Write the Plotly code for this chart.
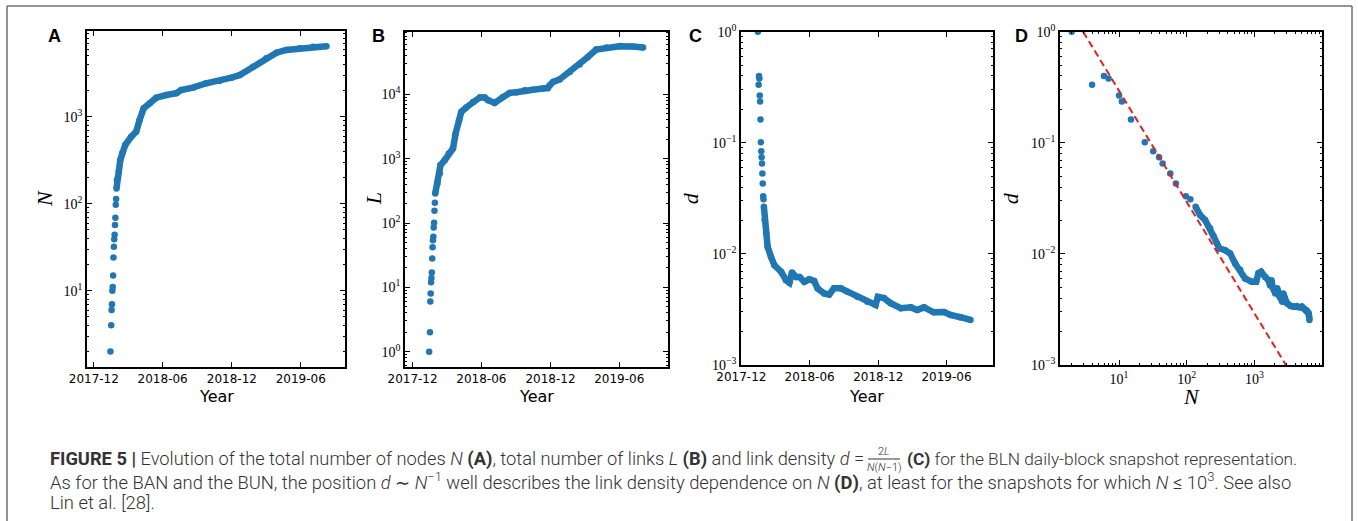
import plotly.graph_objects as go

# ---------------- data ----------------
early_dates = ["2018-01-14", "2018-01-16", "2018-01-17", "2018-01-18", "2018-01-19",
               "2018-01-20", "2018-01-21", "2018-01-22", "2018-01-23", "2018-01-24",
               "2018-01-25", "2018-01-26", "2018-01-27", "2018-01-28", "2018-01-29"]
nodes_early = [2, 4, 6, 7, 10, 11, 15, 24, 32, 39, 44, 57, 69, 97, 113]
links_early = [1, 2, 6, 8, 12, 14, 17, 28, 42, 54, 61, 85, 101, 155, 206]
density_early = [1.0, 0.333, 0.40, 0.38, 0.267, 0.236, 0.162, 0.101, 0.084, 0.074,
                 0.065, 0.053, 0.043, 0.033, 0.031]

dates_a = ["2018-01-30", "2018-01-31", "2018-02-05", "2018-02-09", "2018-02-14", "2018-02-22",
           "2018-03-10", "2018-03-23", "2018-04-01", "2018-04-12", "2018-04-28", "2018-05-15",
           "2018-06-11", "2018-07-07", "2018-07-20", "2018-08-20", "2018-09-24", "2018-10-29",
           "2018-11-30", "2018-12-22", "2019-01-26", "2019-03-02", "2019-03-29", "2019-04-24",
           "2019-05-30", "2019-07-04", "2019-08-08"]
nodes_a = [150, 187, 233, 318, 379, 473, 589, 673, 916, 1250, 1427, 1652, 1775, 1858, 2027,
           2155, 2421, 2570, 2806, 3013, 3758, 4690, 5440, 5850, 6110, 6380, 6450]

dates_b = ["2018-01-30", "2018-02-05", "2018-02-11", "2018-02-13", "2018-02-24", "2018-03-07",
           "2018-03-18", "2018-03-25", "2018-04-03", "2018-04-09", "2018-04-22", "2018-05-10",
           "2018-05-28", "2018-06-10", "2018-06-19", "2018-07-06", "2018-07-28", "2018-08-15",
           "2018-09-02", "2018-09-24", "2018-10-16", "2018-11-11", "2018-11-24", "2018-11-29",
           "2018-12-08", "2018-12-25", "2019-01-21", "2019-02-16", "2019-03-10", "2019-04-01",
           "2019-04-28", "2019-06-02", "2019-07-07", "2019-08-03"]
links_b = [288, 412, 589, 794, 948, 1202, 1439, 2460, 3960, 5330, 6240, 7620, 8920, 8920,
           8090, 7350, 9120, 10520, 10800, 11600, 11800, 12300, 12500, 13840, 15600, 17000,
           22300, 29000, 38000, 49500, 53300, 55800, 55500, 53300]

dates_c = ["2018-01-30", "2018-02-01", "2018-02-05", "2018-02-09", "2018-02-18", "2018-02-27",
           "2018-03-17", "2018-03-30", "2018-04-08", "2018-04-15", "2018-04-26", "2018-05-05",
           "2018-05-18", "2018-05-31", "2018-06-13", "2018-06-22", "2018-07-10", "2018-07-23",
           "2018-08-05", "2018-08-23", "2018-09-10", "2018-10-07", "2018-11-02", "2018-11-24",
           "2018-11-30", "2018-12-16", "2019-01-03", "2019-01-30", "2019-02-26", "2019-03-15",
           "2019-04-02", "2019-04-28", "2019-05-25", "2019-06-12", "2019-07-08", "2019-08-04"]
density_c = [0.0266, 0.0202, 0.0153, 0.0116, 0.0094, 0.0079, 0.0069, 0.0058, 0.0055, 0.0068,
             0.0062, 0.0062, 0.0056, 0.0059, 0.0057, 0.0049, 0.0044, 0.0043, 0.0049, 0.0049,
             0.00457, 0.0041, 0.0037, 0.00347, 0.0041, 0.0040, 0.0036, 0.00324, 0.0033,
             0.00313, 0.0033, 0.00298, 0.0030, 0.00282, 0.00269, 0.00254]

nodes_d = [135, 157, 186, 221, 247, 277, 303, 368, 436, 517, 612, 726, 912, 1057, 1143, 1250,
           1435, 1605, 1700, 1780, 1850, 2027, 2155, 2300, 2421, 2570, 2650, 2806, 3013, 3400,
           3758, 4220, 4690, 5000, 5440, 5850, 6110, 6300, 6400, 6470]
density_d = [0.0266, 0.0224, 0.0202, 0.017, 0.0145, 0.0125, 0.0112, 0.0108, 0.0101, 0.0082,
             0.0072, 0.0060, 0.0056, 0.0056, 0.0067, 0.0069, 0.0062, 0.0058, 0.0052, 0.0058,
             0.0050, 0.0044, 0.0049, 0.0042, 0.0040, 0.0037, 0.0044, 0.0040, 0.0036, 0.0034,
             0.00335, 0.0034, 0.0033, 0.00335, 0.0032, 0.0031, 0.0030, 0.0029, 0.0027, 0.00254]

fit_nodes = [2.95, 2900]
fit_density = [1.0, 0.001]

date_tickvals = ["2017-12-01", "2018-06-01", "2018-12-01", "2019-06-01"]
date_ticktext = ["2017-12", "2018-06", "2018-12", "2019-06"]
decade_exponents = [-3, -2, -1, 0, 1, 2, 3, 4, 5]
minor_mantissas = [2, 3, 4, 5, 6, 7, 8, 9]
panel_letters = ["A", "B", "C", "D"]
y_titles = ["N", "L", "d", "d"]
x_titles = ["Year", "Year", "Year", "N"]

# ---------------- geometry helpers ----------------
W, H = 1358, 521


def fx(p):
    return p / W


def fy(p):
    return 1 - p / H


BLUE = "#1f77b4"
SANS = "DejaVu Sans"
SERIF = "Liberation Serif"

major_vals = [10.0 ** e for e in decade_exponents]
major_text = ["10<sup>%s</sup>" % (str(e).replace("-", "−")) for e in decade_exponents]
minor_vals = [m * 10.0 ** e for e in decade_exponents for m in minor_mantissas]

fig = go.Figure()

series = [
    (early_dates, nodes_early, dates_a, nodes_a),
    (early_dates, links_early, dates_b, links_b),
    (early_dates, density_early, dates_c, density_c),
    (nodes_early, density_early, nodes_d, density_d),
]
for i, (xe, ye, xb, yb) in enumerate(series):
    sfx = "" if i == 0 else str(i + 1)
    fig.add_trace(go.Scatter(x=xb, y=yb, mode="lines+markers", xaxis="x" + sfx, yaxis="y" + sfx,
                             line=dict(color=BLUE, width=6.5),
                             marker=dict(color=BLUE, size=6.5), showlegend=False))
    fig.add_trace(go.Scatter(x=xe, y=ye, mode="markers", xaxis="x" + sfx, yaxis="y" + sfx,
                             marker=dict(color=BLUE, size=6.5), showlegend=False))

fig.add_trace(go.Scatter(x=fit_nodes, y=fit_density, mode="lines", xaxis="x4", yaxis="y4",
                         line=dict(color="#e8201c", width=2, dash="7px,4px"), showlegend=False))

# panel boxes in pixels: (left, right, top, bottom)
boxes = [(87, 345, 31, 367), (405, 668, 31.7, 367), (741, 993, 31.7, 365), (1060, 1322, 31.7, 365)]
x_ranges = [["2017-11-13", "2019-09-26"], ["2017-11-11", "2019-10-08"],
            ["2017-11-30", "2019-10-03"], [0.1285, 3.996]]
y_ranges = [[0.123, 3.985], [-0.238, 4.973], [-3.0005, 0.0005], [-3.0005, 0.0005]]

common = dict(showline=True, linecolor="black", linewidth=1.6, mirror="allticks",
              ticks="inside", ticklen=5, tickwidth=1, tickcolor="black",
              showgrid=False, zeroline=False, automargin=False)
minor = dict(tickvals=minor_vals, ticks="inside", ticklen=2.5, tickwidth=0.8,
             tickcolor="black", showgrid=False)
log_axis = dict(type="log", tickmode="array", tickvals=major_vals, ticktext=major_text,
                minor=minor, tickfont=dict(family=SERIF, size=14, color="black"))

layout = dict(template="none", width=W, height=H,
              margin=dict(l=0, r=0, t=0, b=0, autoexpand=False),
              paper_bgcolor="white", plot_bgcolor="white", showlegend=False)

for i, (l, r, t, b) in enumerate(boxes):
    sfx = "" if i == 0 else str(i + 1)
    xa = dict(common, domain=[fx(l), fx(r)], anchor="y" + sfx, range=x_ranges[i])
    if i < 3:
        xa.update(type="date", tickmode="array", tickvals=date_tickvals, ticktext=date_ticktext,
                  tickfont=dict(family=SANS, size=12, color="black"))
    else:
        xa.update(log_axis)
    ya = dict(common, domain=[fy(b), fy(t)], anchor="x" + sfx, range=y_ranges[i], **log_axis)
    layout["xaxis" + sfx] = xa
    layout["yaxis" + sfx] = ya

fig.update_layout(**layout)

ann = []
letter_x = [54, 378, 696, 1021]
ytitle_x = [45, 373, 690, 1010]
for i, (l, r, t, b) in enumerate(boxes):
    ann.append(dict(text="<b>%s</b>" % panel_letters[i], x=fx(letter_x[i]), y=fy(36),
                    xref="paper", yref="paper", showarrow=False, xanchor="center", yanchor="middle",
                    font=dict(family="Liberation Sans", size=18, color="black")))
    ann.append(dict(text="<i>%s</i>" % y_titles[i], x=fx(ytitle_x[i]), y=fy((t + b) / 2),
                    xref="paper", yref="paper", showarrow=False, xanchor="center", yanchor="middle",
                    textangle=-90, font=dict(family=SERIF, size=22, color="black")))
    if x_titles[i] == "Year":
        ann.append(dict(text="Year", x=fx((l + r) / 2), y=fy(396), xref="paper", yref="paper",
                        showarrow=False, xanchor="center", yanchor="middle",
                        font=dict(family=SANS, size=16, color="black")))
    else:
        ann.append(dict(text="<i>N</i>", x=fx((l + r) / 2), y=fy(396), xref="paper", yref="paper",
                        showarrow=False, xanchor="center", yanchor="middle",
                        font=dict(family=SERIF, size=22, color="black")))

CAP = "Roboto, sans-serif"
CAPC = "#333333"
cap1a = ("<b>FIGURE 5 |</b> Evolution of the total number of nodes <i>N</i> <b>(A)</b>, "
         "total number of links <i>L</i> <b>(B)</b> and link density <i>d</i> =")
cap1b = "<b>(C)</b> for the BLN daily-block snapshot representation."
cap2 = ("As for the BAN and the BUN, the position <i>d</i> ∼ <i>N</i><sup>−1</sup> well describes "
        "the link density dependence on <i>N</i> <b>(D)</b>, at least for the snapshots for which "
        "<i>N</i> ≤ 10<sup>3</sup>. See also")
cap3 = "Lin et al. [28]."


def capfont(size):
    return dict(family=CAP, size=size, color=CAPC, weight=300)


ann.append(dict(text=cap1a, x=fx(48), y=fy(459), xref="paper", yref="paper", showarrow=False,
                xanchor="left", yanchor="middle", font=capfont(18.3)))
ann.append(dict(text=cap1b, x=fx(905), y=fy(459), xref="paper", yref="paper", showarrow=False,
                xanchor="left", yanchor="middle", font=capfont(17.3)))
ann.append(dict(text="2<i>L</i>", x=fx(884), y=fy(451), xref="paper", yref="paper", showarrow=False,
                xanchor="center", yanchor="middle", font=capfont(11)))
ann.append(dict(text="<i>N</i>(<i>N</i>−1)", x=fx(884), y=fy(467), xref="paper", yref="paper",
                showarrow=False, xanchor="center", yanchor="middle", font=capfont(11)))
ann.append(dict(text=cap2, x=fx(48), y=fy(481), xref="paper", yref="paper", showarrow=False,
                xanchor="left", yanchor="middle", font=capfont(18.4)))
ann.append(dict(text=cap3, x=fx(48), y=fy(502), xref="paper", yref="paper", showarrow=False,
                xanchor="left", yanchor="middle", font=capfont(18.4)))

shapes = [
    dict(type="line", xref="paper", yref="paper", x0=fx(868), x1=fx(900), y0=fy(459), y1=fy(459),
         line=dict(color=CAPC, width=1)),
    dict(type="line", xref="paper", yref="paper", x0=fx(7), x1=fx(1352), y0=fy(6), y1=fy(6),
         line=dict(color="#707070", width=1.5)),
    dict(type="line", xref="paper", yref="paper", x0=fx(7), x1=fx(7), y0=fy(6), y1=fy(530),
         line=dict(color="#707070", width=1.5)),
    dict(type="line", xref="paper", yref="paper", x0=fx(1352), x1=fx(1352), y0=fy(6), y1=fy(530),
         line=dict(color="#707070", width=1.5)),
]
fig.update_layout(annotations=ann, shapes=shapes)
fig.write_html("out.html")
